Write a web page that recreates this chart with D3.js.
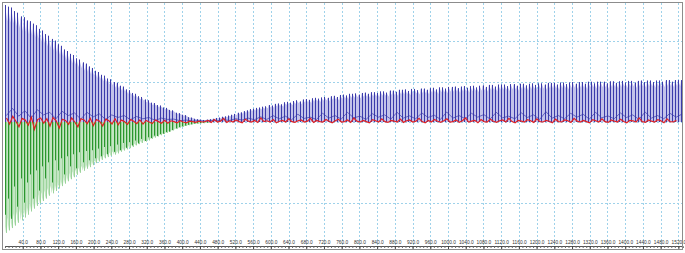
<!DOCTYPE html>
<html><head><meta charset="utf-8">
<script src="https://cdn.jsdelivr.net/npm/d3@7"></script>
<style>body{margin:0;background:#fff;overflow:hidden}</style>
</head><body>
<svg id="c" width="685" height="253"></svg>
<script>
// ---- data ----
const sampleStep = 7;    // x units between successive spikes
const rippleStep = 14;   // x units between ripple samples
const xTickValues = [40,80,120,160,200,240,280,320,360,400,440,480,520,560,600,640,680,720,760,800,840,880,920,960,1000,1040,1080,1120,1160,1200,1240,1280,1320,1360,1400,1440,1480,1520];
const xTickLabels = ["40.0","80.0","120.0","160.0","200.0","240.0","280.0","320.0","360.0","400.0","440.0","480.0","520.0","560.0","600.0","640.0","680.0","720.0","760.0","800.0","840.0","880.0","920.0","960.0","1000.0","1040.0","1080.0","1120.0","1160.0","1200.0","1240.0","1280.0","1320.0","1360.0","1400.0","1440.0","1480.0","1520.0"];
const yGridValues = [-2,-1,0,1,2];

const blueSpikes = [2.9,2.86,2.84,2.75,2.71,2.62,2.6,2.52,2.5,2.44,
 2.4,2.31,2.27,2.18,2.14,2.06,2.02,1.93,1.89,1.8,
 1.76,1.69,1.66,1.58,1.55,1.48,1.45,1.38,1.34,1.27,1.24,
 1.17,1.15,1.08,1.06,0.99,0.97,0.9,0.88,0.81,0.79,0.72,
 0.7,0.64,0.62,0.56,0.54,
 0.48,0.47,0.42,0.41,0.36,0.35,
 0.3,0.29,0.23,0.22,
 0.18,0.17,0.12,0.11,
 0.08,0.07,0.06,
 0.05,0.06,0.07,0.08,
 0.1,0.11,0.13,0.14,
 0.16,0.18,0.2,0.23,0.24,0.27,0.29,
 0.32,0.33,0.35,0.36,0.38,0.39,0.42,0.41,0.45,
 0.46,0.44,0.49,0.5,0.48,0.52,0.54,0.51,
 0.56,0.57,0.55,0.59,0.6,0.58,0.61,0.62,0.6,0.64,0.65,0.62,0.67,0.68,0.66,0.7,
 0.7,0.71,0.68,0.72,0.73,0.7,0.74,0.74,0.72,0.76,0.76,0.73,0.78,0.78,0.75,0.8,
 0.8,0.81,0.77,0.82,0.82,0.79,0.83,0.83,0.8,0.84,0.85,0.81,0.86,0.86,0.83,0.87,
 0.87,0.88,0.84,0.88,0.89,0.85,0.89,0.9,0.86,0.9,0.91,0.87,0.92,0.92,0.88,0.93,
 0.93,0.93,0.89,0.94,0.94,0.9,0.95,0.95,0.91,0.95,0.96,0.92,0.96,0.96,0.93,0.97,
 0.97,0.97,0.93,0.98,0.98,0.94,0.98,0.99,0.95,0.99,0.99,0.95,1.0,1.0,0.96,1.0,
 1.0,1.0,0.96,1.01,1.01,0.97,1.01,1.02,0.98,1.02,1.02,0.98,1.02,1.03,0.99,1.03,1.03,0.99,1.03,1.03,1.0,1.04,1.04,1.0,1.04,1.04,
 1.04];

const blueRipple = [0.2,0.42,0.18,0.35,0.12,0.38,0.22,0.3,0.1,0.33,0.2,0.28,0.09,0.3,0.16,0.25,0.08,0.22,0.14,0.2,0.07,0.17,0.1,0.14,0.05,0.12,0.08,0.09,0.04,0.06,0.03,0.04,
 0.03,0.05,0.04,0.07,0.05,0.1,0.06,0.12,0.07,0.16,0.08,0.2,0.1,0.18,0.07,0.24,0.11,0.15,0.08,0.27,0.12,0.2,0.09,0.3,0.13,0.18,0.08,0.26,0.15,0.22,0.09,0.3,0.12,0.19,0.1,0.28,0.14,0.21,0.08,0.31,0.12,0.2,0.1,0.27,0.15,0.23,0.09,0.3,0.13,0.18,0.1,0.29,0.14,0.22,0.08,0.32,0.12,0.2,0.1,0.27,0.15,0.24,0.09,0.3,0.13,0.19,0.1,0.28,0.14,0.22,0.08,0.31,0.12,0.2,0.1,0.27,0.15,0.25];

const redSeries = [0.1,-0.05,0.14,0.02,-0.12,0.09,0.05,-0.08,0.12,-0.18,0.06,0.1,-0.03,0.08,-0.1,0.11,0.03,-0.15,0.07,0.04,-0.06,0.1,0.0,-0.12,0.08,0.05,-0.04,0.09,-0.09,0.06,0.02,-0.1,0.07,0.03,-0.05,0.08,-0.07,0.05,0.01,-0.06,0.06,0.02,-0.04,0.05,-0.05,0.04,0.0,-0.04,0.05,0.01,-0.03,0.04,-0.03,0.03,0.01,-0.02,0.03,0.0,-0.02,0.02,0.01,-0.01,0.02,0.0,
 0.01,0.04,-0.01,0.06,0.0,0.02,0.09,-0.01,0.03,0.0,0.05,0.01,-0.02,0.07,0.02,0.0,0.04,-0.01,0.1,0.01,0.03,0.0,0.06,-0.02,0.02,0.04,0.0,0.08,0.01,-0.01,0.03,0.05,0.0,0.02,0.09,-0.01,0.04,0.01,0.0,0.06,0.02,-0.02,0.03,0.07,0.0,0.01,0.05,-0.01,0.1,0.02,0.0,0.04,0.01,-0.02,0.06,0.03,0.0,0.08,0.01,-0.01,0.04,0.02,0.0,0.07,-0.01,0.03,0.05,0.0,0.02,0.09,0.01,-0.02,0.04,0.0,0.06,0.02,-0.01,0.03,0.08,0.0,0.01,0.05,-0.01,0.03,0.1,0.0,0.02,0.04,-0.02,0.06,0.01,0.0,0.07,0.02,-0.01,0.03,0.05,0.0,0.09,0.01,-0.02,0.04,0.02,0.0,0.06,0.03,-0.01,0.08,0.01,0.0,0.04,0.02,-0.02,0.07,0.01,0.0,0.05,0.03,-0.01,0.09,0.02,0.0,0.04,0.01,-0.02,0.06,0.03,0.0,0.08,0.01,-0.01,0.05,0.02,0.0,0.07,0.01,-0.02,0.04,0.03,0.0,0.1,0.01,-0.01,0.05,0.02,0.0,0.06,0.03,-0.02,0.08,0.01,0.0,0.04];

const greenOuter = [2.75,2.69,2.63,2.57,2.5,2.44,2.37,2.3,2.22,2.15,2.08,2.02,1.96,1.9,1.83,1.77,1.71,1.65,1.59,1.53,1.47,1.42,1.37,1.31,1.26,1.21,1.16,1.12,1.07,1.02,0.98,0.94,0.9,0.87,0.84,0.81,0.78,0.74,0.71,0.68,0.65,0.62,0.58,0.55,0.52,0.49,0.46,0.42,0.39,0.36,0.33,0.3,0.27,0.24,0.21,0.17,0.14,0.12,0.1,0.08,0.06,0.05,0.04,0.03,0.03,0.02];
const greenInner = [2.3,1.9,2.4,1.6,2.1,1.4,2.0,1.5,1.3,1.9,1.2,1.7,1.1,1.4,1.0,1.5,0.95,1.2,0.9,1.3,0.85,1.1,0.8,1.15,0.75,1.0,0.72,0.95,0.7,0.9,0.66,0.85,0.62,0.8,0.6,0.74,0.56,0.7,0.52,0.64,0.5,0.58,0.46,0.53,0.42,0.47,0.38,0.4,0.34,0.35,0.3,0.29,0.25,0.24,0.2,0.16,0.13,0.11,0.09,0.07,0.06,0.04,0.035,0.03,0.02,0.02];

// ---- drawing ----
const svg = d3.select("#c");
const x = d3.scaleLinear().domain([0, 1530]).range([5, 682.8]);
const y = d3.scaleLinear().domain([-3, 3]).range([243, 1]);
const px = v => Math.round(x(v)) + 0.5;

svg.append("defs").append("clipPath").attr("id","clip")
  .append("rect").attr("x",5).attr("y",3).attr("width",677).attr("height",243);

// grid
const grid = svg.append("g").attr("stroke","#9fd2ea").attr("stroke-dasharray","2,2").attr("stroke-width",1);
grid.selectAll(".gv").data(xTickValues).join("line")
  .attr("x1",d=>px(d)).attr("x2",d=>px(d))
  .attr("y1",3).attr("y2",246);
grid.selectAll(".gh").data(yGridValues).join("line")
  .attr("x1",5).attr("x2",682)
  .attr("y1",d=>Math.round(y(d))+0.5).attr("y2",d=>Math.round(y(d))+0.5);

const plot = svg.append("g").attr("clip-path","url(#clip)");

const bluePts = blueSpikes.map((v,i)=>({t:i*sampleStep, v}));
const greenOutPts = greenOuter.map((v,i)=>({t:i*sampleStep, v:-v}));
const greenInPts = greenInner.map((v,i)=>({t:i*sampleStep, v:-v}));

function zig(pts){
  const out=[[0,0]];
  pts.forEach(p=>{ out.push([p.t,p.v]); out.push([p.t+sampleStep*0.75,p.v*0.86]); });
  out.push([pts[pts.length-1].t+sampleStep,0]);
  return out;
}
const area = d3.area().x(d=>x(d[0])).y0(y(0)).y1(d=>y(d[1]));

plot.append("path").attr("d",area(zig(bluePts))).attr("fill","#c3c3ea");
plot.append("path").attr("d",area(zig(greenOutPts))).attr("fill","#c4e6c4");

plot.append("g").attr("stroke","#3b3bab").attr("stroke-width",1)
  .selectAll("line").data(bluePts).join("line")
  .attr("x1",d=>px(d.t)).attr("x2",d=>px(d.t)).attr("y1",y(0)).attr("y2",d=>y(d.v));

plot.append("g").attr("stroke","#9bd39b").attr("stroke-width",1)
  .selectAll("line").data(greenOutPts).join("line")
  .attr("x1",d=>px(d.t)+1).attr("x2",d=>px(d.t)+1).attr("y1",y(0)).attr("y2",d=>y(d.v));
plot.append("g").attr("stroke","#2a962e").attr("stroke-width",1)
  .selectAll("line").data(greenInPts).join("line")
  .attr("x1",d=>px(d.t)).attr("x2",d=>px(d.t)).attr("y1",y(0)).attr("y2",d=>y(d.v));

plot.append("path")
  .attr("d", d3.line().x((d,i)=>x(i*rippleStep+3)).y(d=>y(d*0.8))(blueRipple))
  .attr("fill","none").attr("stroke","#3535a6").attr("stroke-width",0.8).attr("opacity",0.85);

plot.append("path")
  .attr("d", d3.line().x((d,i)=>x(i*sampleStep+3.5)).y(d=>y(d))(redSeries))
  .attr("fill","none").attr("stroke","#e02424").attr("stroke-width",1.2);

// bottom axis
const axisY = 246;
const minor = svg.append("g").attr("transform",`translate(0,${axisY})`)
  .call(d3.axisBottom(x).tickValues(d3.range(0,1531,8)).tickSize(2).tickFormat(""));
minor.select(".domain").attr("stroke","#555");
minor.selectAll(".tick line").attr("stroke","#666");
const major = svg.append("g").attr("transform",`translate(0,${axisY})`)
  .call(d3.axisBottom(x).tickValues(xTickValues).tickSize(3)
    .tickFormat((d,i)=>xTickLabels[i]));
major.select(".domain").remove();
major.selectAll(".tick line").attr("stroke","#444");
major.selectAll(".tick text").attr("y",-2.5).attr("dy",0)
  .attr("font-family","Liberation Sans, Arial, sans-serif").attr("font-size","4.8px").attr("fill","#333");

// frame
svg.append("rect").attr("x",2.5).attr("y",2.5).attr("width",680).attr("height",247)
  .attr("fill","none").attr("stroke","#8c8c8c").attr("stroke-width",1);
</script>
</body></html>
